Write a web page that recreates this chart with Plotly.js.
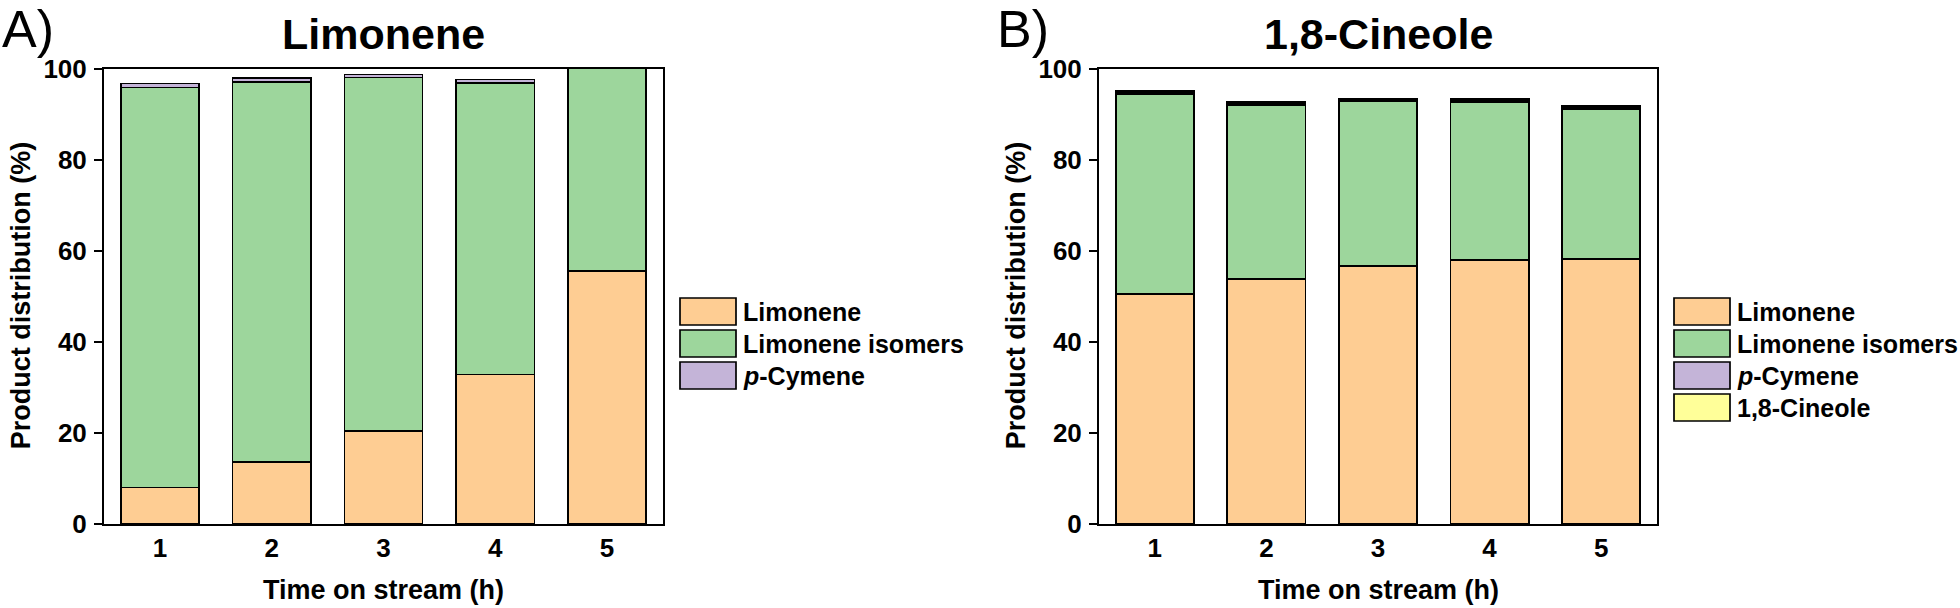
<!DOCTYPE html>
<html>
<head>
<meta charset="utf-8">
<script src="https://cdn.plot.ly/plotly-3.0.1.min.js"></script>
<style>html,body{margin:0;padding:0;background:#fff;}#chart{width:1960px;height:608px;}</style>
</head>
<body>
<div id="chart"></div>
<script>
// ---- data ----
const hours = [1, 2, 3, 4, 5];

// Panel A: Limonene feed
const limA_limonene = [8.0, 13.6, 20.4, 32.8, 55.5];
const limA_isomers  = [87.8, 83.5, 77.6, 64.0, 44.5];
const limA_pcymene  = [0.9, 0.8, 0.7, 0.8, 0.0];

// Panel B: 1,8-Cineole feed
const cinB_limonene = [50.5, 53.8, 56.6, 57.9, 58.2];
const cinB_isomers  = [43.9, 38.2, 36.2, 34.8, 32.9];
const cinB_pcymene  = [0.4, 0.3, 0.3, 0.3, 0.4];
const cinB_cineole  = [0.3, 0.3, 0.3, 0.3, 0.3];

const seriesNames  = ['Limonene', 'Limonene isomers', '<i>p</i>-Cymene', '1,8-Cineole'];
const seriesColors = ['#FECD93', '#9DD69C', '#C4B4D8', '#FFFF99'];
const panelTitles  = ['Limonene', '1,8-Cineole'];
const panelLetters = ['A)', 'B)'];
const yTicks = [0, 20, 40, 60, 80, 100];

// ---- helpers ----
const W = 1960, H = 608;
const px = x => x / W;
const py = y => 1 - y / H;
const FONT = 'Liberation Sans, Arial, sans-serif';

function barTrace(y, idx, xa, ya) {
  return {
    type: 'bar', x: hours, y: y, name: seriesNames[idx],
    xaxis: xa, yaxis: ya, width: 0.7, showlegend: false,
    marker: {color: seriesColors[idx], line: {color: '#000', width: 1.7}},
    hoverinfo: 'skip'
  };
}

const data = [
  barTrace(limA_limonene, 0, 'x', 'y'),
  barTrace(limA_isomers, 1, 'x', 'y'),
  barTrace(limA_pcymene, 2, 'x', 'y'),
  barTrace(cinB_limonene, 0, 'x2', 'y2'),
  barTrace(cinB_isomers, 1, 'x2', 'y2'),
  barTrace(cinB_pcymene, 2, 'x2', 'y2'),
  barTrace(cinB_cineole, 3, 'x2', 'y2')
];

// plot geometry (pixels)
const panels = [
  {x0: 104, x1: 663, legendX: 680, legendN: 3},
  {x0: 1099, x1: 1657, legendX: 1674, legendN: 4}
];
const yTop = 68.5, yBot = 524;

function xAxis(p) {
  return {
    domain: [px(p.x0), px(p.x1)], range: [0.5, 5.5],
    tickvals: hours, ticktext: hours.map(String),
    ticks: '', showline: true, linecolor: '#000', linewidth: 2, mirror: true,
    showgrid: false, zeroline: false, fixedrange: true, ticklabelstandoff: 0,
    tickfont: {family: FONT, size: 26, color: '#000', weight: 700}
  };
}
function yAxis(anchor) {
  return {
    domain: [py(yBot), py(yTop)], range: [0, 100], anchor: anchor,
    tickvals: yTicks, ticktext: yTicks.map(String),
    ticks: 'outside', ticklen: 8, tickwidth: 2, tickcolor: '#000',
    showline: true, linecolor: '#000', linewidth: 2, mirror: true,
    showgrid: false, zeroline: false, fixedrange: true, ticklabelstandoff: 2,
    tickfont: {family: FONT, size: 26, color: '#000', weight: 700}
  };
}

const annotations = [];
const shapes = [];

panels.forEach((p, i) => {
  const cx = (p.x0 + p.x1) / 2;
  // panel title
  annotations.push({xref: 'paper', yref: 'paper', x: px(cx), y: py(34),
    text: panelTitles[i], showarrow: false, xanchor: 'center', yanchor: 'middle',
    font: {family: FONT, size: 43, color: '#000', weight: 700}});
  // panel letter
  annotations.push({xref: 'paper', yref: 'paper', x: px(p.x0 - 104), y: py(29),
    text: panelLetters[i], showarrow: false, xanchor: 'left', yanchor: 'middle',
    font: {family: FONT, size: 52, color: '#000'}});
  // y title
  annotations.push({xref: 'paper', yref: 'paper', x: px(p.x0 - 83), y: py((yTop + yBot) / 2),
    text: 'Product distribution (%)', textangle: -90, showarrow: false,
    xanchor: 'center', yanchor: 'middle',
    font: {family: FONT, size: 27, color: '#000', weight: 700}});
  // x title
  annotations.push({xref: 'paper', yref: 'paper', x: px(cx), y: py(590),
    text: 'Time on stream (h)', showarrow: false, xanchor: 'center', yanchor: 'middle',
    font: {family: FONT, size: 27, color: '#000', weight: 700}});
  // legend
  for (let k = 0; k < p.legendN; k++) {
    const top = 298 + k * 32;
    shapes.push({type: 'rect', xref: 'paper', yref: 'paper',
      x0: px(p.legendX), x1: px(p.legendX + 56), y0: py(top + 27), y1: py(top),
      fillcolor: seriesColors[k], line: {color: '#000', width: 1.7}});
    annotations.push({xref: 'paper', yref: 'paper', x: px(p.legendX + 61), y: py(top + 14),
      text: seriesNames[k], showarrow: false, xanchor: 'left', yanchor: 'middle',
      font: {family: FONT, size: 25, color: '#000', weight: 700}});
  }
});

const layout = {
  width: W, height: H, margin: {l: 0, r: 0, t: 0, b: 0},
  paper_bgcolor: '#fff', plot_bgcolor: '#fff',
  barmode: 'stack', showlegend: false,
  xaxis: xAxis(panels[0]), yaxis: yAxis('x'),
  xaxis2: xAxis(panels[1]), yaxis2: yAxis('x2'),
  annotations: annotations, shapes: shapes
};
layout.xaxis2.anchor = 'y2';
layout.xaxis.anchor = 'y';

Plotly.newPlot('chart', data, layout, {staticPlot: true, displayModeBar: false});
</script>
</body>
</html>
